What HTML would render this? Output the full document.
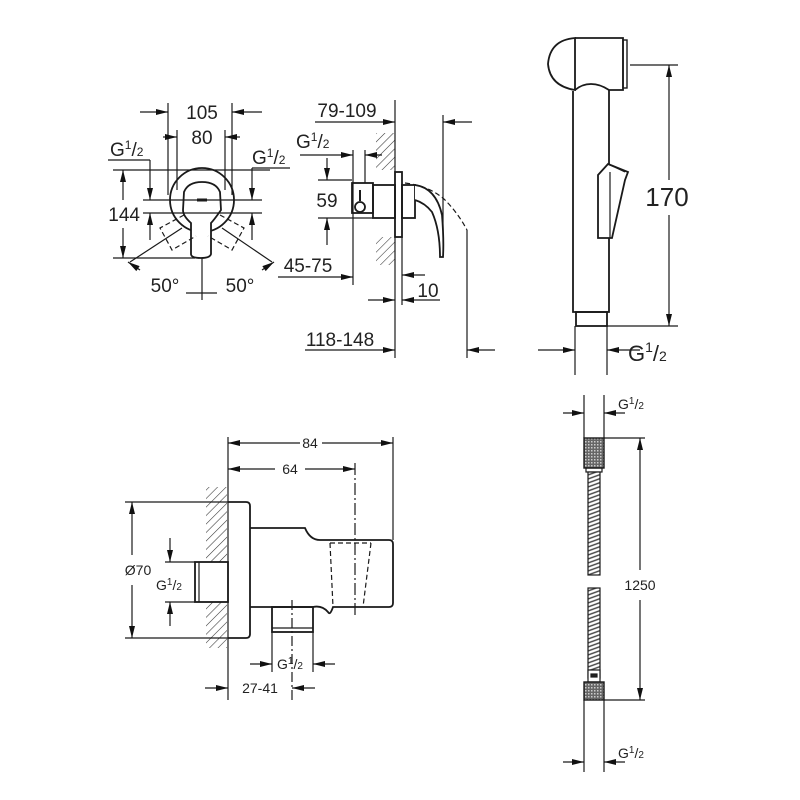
<!DOCTYPE html>
<html><head><meta charset="utf-8"><style>
html,body{margin:0;padding:0;background:#fff;}
svg{display:block;}
text{font-family:"Liberation Sans",sans-serif;fill:#222;}
</style></head><body>
<svg width="800" height="800" viewBox="0 0 800 800" xmlns="http://www.w3.org/2000/svg">
<defs>
<marker id="a" markerWidth="12" markerHeight="8" refX="12" refY="4" orient="auto" markerUnits="userSpaceOnUse"><path d="M0,1 L12,4 L0,7 Z" fill="#111"/></marker>
<pattern id="h" width="6" height="6" patternUnits="userSpaceOnUse" patternTransform="rotate(45)"><line x1="0" y1="0" x2="0" y2="6" stroke="#333" stroke-width="1.1"/></pattern>
<pattern id="k" width="3" height="3" patternUnits="userSpaceOnUse"><rect width="3" height="3" fill="#666"/><rect width="1.5" height="1.5" fill="#ccc"/></pattern>
<pattern id="s" width="12" height="4" patternUnits="userSpaceOnUse" patternTransform="skewY(-20)"><rect width="12" height="4" fill="#fff"/><line x1="0" y1="1" x2="12" y2="1" stroke="#444" stroke-width="1.5"/></pattern>
</defs>
<g stroke="#1a1a1a" stroke-width="1.2" fill="none">
<!-- ===== front view mixer ===== -->
<circle cx="202" cy="200" r="32" stroke-width="1.8"/>
<path d="M184,192 Q188,182 202,182 Q216,182 220,192 L221,210 Q214,220 211,223 L211,254 Q210,258 201,258 Q191,258 191,254 L191,223 Q183,216 183,210 Z" stroke-width="1.8" fill="#fff"/>
<path d="M197,200 L207,200" stroke-width="3"/>
<path d="M184,215 L160,228 L172,250 L196,236" stroke-dasharray="5,3"/>
<path d="M220,215 L244,228 L232,250 L208,236" stroke-dasharray="5,3"/>
<line x1="168" y1="103" x2="168" y2="195"/><line x1="232" y1="103" x2="232" y2="195"/>
<line x1="140" y1="112" x2="168" y2="112" marker-end="url(#a)"/><line x1="262" y1="112" x2="232" y2="112" marker-end="url(#a)"/>
<line x1="177" y1="130" x2="177" y2="190"/><line x1="225" y1="130" x2="225" y2="190"/>
<line x1="163" y1="137" x2="177" y2="137" marker-end="url(#a)"/><line x1="240" y1="137" x2="225" y2="137" marker-end="url(#a)"/>
<line x1="108" y1="160" x2="150" y2="160"/><line x1="150" y1="160" x2="150" y2="200" marker-end="url(#a)"/>
<line x1="150" y1="240" x2="150" y2="213" marker-end="url(#a)"/>
<line x1="143" y1="200" x2="262" y2="200"/><line x1="143" y1="213" x2="262" y2="213"/>
<line x1="252" y1="168" x2="290" y2="168"/><line x1="252" y1="168" x2="252" y2="200" marker-end="url(#a)"/>
<line x1="252" y1="240" x2="252" y2="213" marker-end="url(#a)"/>
<line x1="113" y1="170" x2="270" y2="170"/><line x1="113" y1="258" x2="195" y2="258"/>
<line x1="123" y1="200" x2="123" y2="170" marker-end="url(#a)"/><line x1="123" y1="228" x2="123" y2="258" marker-end="url(#a)"/>
<line x1="182" y1="228" x2="130" y2="262"/><line x1="222" y1="228" x2="272" y2="262"/>
<line x1="140" y1="270" x2="128" y2="262" marker-end="url(#a)"/><line x1="262" y1="270" x2="274" y2="262" marker-end="url(#a)"/>
<line x1="202" y1="258" x2="202" y2="300"/>
<line x1="186" y1="293" x2="217" y2="293"/>
<!-- ===== side view mixer ===== -->
<rect x="376" y="133" width="19" height="37" fill="url(#h)" stroke="none"/>
<rect x="376" y="237" width="19" height="28" fill="url(#h)" stroke="none"/>
<line x1="395" y1="100" x2="395" y2="358"/>
<rect x="395" y="172" width="7" height="65" stroke-width="1.8" fill="#fff"/>
<rect x="373" y="185" width="22" height="33" stroke-width="1.8"/>
<rect x="352" y="183" width="21" height="30" stroke-width="1.8"/>
<circle cx="360" cy="207" r="5" stroke-width="1.8"/><line x1="360" y1="190" x2="360" y2="201" stroke-width="2"/>
<rect x="402" y="185" width="13" height="33" stroke-width="1.8"/>
<path d="M415,185 Q436,188 442,215 Q444,240 443,257 L440,257 Q440,230 432,212 Q425,203 415,200" stroke-width="1.8" fill="#fff"/>
<path d="M405,183 Q430,186 445,200 Q458,213 467,230" stroke-dasharray="5,3"/>
<line x1="315" y1="122" x2="395" y2="122" marker-end="url(#a)"/>
<line x1="472" y1="122" x2="443" y2="122" marker-end="url(#a)"/>
<line x1="443" y1="115" x2="443" y2="230"/>
<line x1="300" y1="155" x2="353" y2="155" marker-end="url(#a)"/>
<line x1="353" y1="150" x2="353" y2="285"/>
<line x1="365" y1="150" x2="365" y2="183"/>
<line x1="382" y1="155" x2="365" y2="155" marker-end="url(#a)"/>
<line x1="318" y1="180" x2="352" y2="180"/><line x1="318" y1="218" x2="373" y2="218"/>
<line x1="327" y1="158" x2="327" y2="180" marker-end="url(#a)"/><line x1="327" y1="245" x2="327" y2="218" marker-end="url(#a)"/>
<line x1="278" y1="277" x2="353" y2="277" marker-end="url(#a)"/>
<line x1="402" y1="237" x2="402" y2="305"/>
<line x1="425" y1="275" x2="402" y2="275" marker-end="url(#a)"/>
<line x1="368" y1="300" x2="395" y2="300" marker-end="url(#a)"/>
<line x1="440" y1="300" x2="402" y2="300" marker-end="url(#a)"/>
<line x1="305" y1="350" x2="395" y2="350" marker-end="url(#a)"/>
<line x1="467" y1="230" x2="467" y2="358"/>
<line x1="495" y1="350" x2="467" y2="350" marker-end="url(#a)"/>
<!-- ===== handheld shower ===== -->
<path d="M575,38 L575,90 Q550,86 548,64 Q550,40 575,38 Z" stroke-width="1.8"/>
<path d="M575,38 L623,38 L623,90 L609,90 Q600,84 591,84 Q582,84 575,90" stroke-width="1.8"/>
<rect x="623" y="40" width="4" height="48" stroke-width="1.4"/>
<path d="M573,91 L573,312 L609,312 L609,90" stroke-width="1.8"/>
<rect x="576" y="312" width="31" height="14" stroke-width="1.8"/>
<path d="M608,164 L598,175 L598,238 L612,238 L625,180 L628,172 Z" stroke-width="1.8" fill="#fff"/>
<path d="M610,172 L610,238 M608,164 L625,172" stroke-width="1.2"/>
<line x1="630" y1="65" x2="678" y2="65"/><line x1="607" y1="326" x2="678" y2="326"/>
<line x1="669" y1="180" x2="669" y2="65" marker-end="url(#a)"/><line x1="669" y1="215" x2="669" y2="326" marker-end="url(#a)"/>
<line x1="575" y1="326" x2="575" y2="375"/><line x1="607" y1="326" x2="607" y2="375"/>
<line x1="538" y1="350" x2="575" y2="350" marker-end="url(#a)"/>
<line x1="640" y1="350" x2="607" y2="350" marker-end="url(#a)"/>
<!-- ===== hose ===== -->
<rect x="584" y="438" width="20" height="30" fill="url(#k)" stroke-width="1.4"/>
<rect x="586" y="468" width="16" height="4" stroke-width="1.2"/>
<rect x="588" y="472" width="12" height="103" fill="url(#s)" stroke-width="1.2"/>
<rect x="588" y="588" width="12" height="90" fill="url(#s)" stroke-width="1.2"/>
<rect x="588" y="670" width="12" height="12" fill="#fff" stroke-width="1.2"/>
<rect x="591" y="674" width="6" height="3" fill="#222"/>
<rect x="584" y="682" width="20" height="18" fill="url(#k)" stroke-width="1.4"/>
<line x1="584" y1="395" x2="584" y2="438"/><line x1="604" y1="395" x2="604" y2="438"/>
<line x1="563" y1="413" x2="584" y2="413" marker-end="url(#a)"/><line x1="625" y1="413" x2="604" y2="413" marker-end="url(#a)"/>
<line x1="604" y1="438" x2="645" y2="438"/><line x1="604" y1="700" x2="645" y2="700"/>
<line x1="640" y1="570" x2="640" y2="438" marker-end="url(#a)"/><line x1="640" y1="600" x2="640" y2="700" marker-end="url(#a)"/>
<line x1="584" y1="700" x2="584" y2="772"/><line x1="604" y1="700" x2="604" y2="772"/>
<line x1="563" y1="762" x2="584" y2="762" marker-end="url(#a)"/><line x1="625" y1="762" x2="604" y2="762" marker-end="url(#a)"/>
<!-- ===== wall outlet ===== -->
<rect x="206" y="487" width="21" height="75" fill="url(#h)" stroke="none"/>
<rect x="206" y="602" width="21" height="46" fill="url(#h)" stroke="none"/>
<line x1="228" y1="437" x2="228" y2="700"/>
<path d="M228,502 L246,502 Q250,502 250,506 L250,634 Q250,638 246,638 L228,638" stroke-width="1.8"/>
<path d="M250,528 L305,528 Q310,540 320,540 L389,540 Q393,540 393,544 L393,603 Q393,607 389,607 L333,607 Q330,616 328,612 Q322,605 313,607 L250,607" stroke-width="1.8"/>
<rect x="195" y="562" width="33" height="40" stroke-width="1.8"/>
<line x1="199" y1="562" x2="199" y2="602" stroke-width="1.2"/>
<rect x="272" y="607" width="41" height="25" stroke-width="1.8"/>
<line x1="272" y1="628" x2="313" y2="628" stroke-width="1.2"/>
<path d="M330,543 L371,543 M330,543 L333,607 M371,543 L363,607" stroke-dasharray="5,3"/>
<line x1="355" y1="463" x2="355" y2="615" stroke-dasharray="12,3,2,3"/>
<line x1="292" y1="600" x2="292" y2="700" stroke-dasharray="10,3,2,3"/>
<line x1="393" y1="437" x2="393" y2="540"/>
<line x1="300" y1="443" x2="228" y2="443" marker-end="url(#a)"/><line x1="322" y1="443" x2="393" y2="443" marker-end="url(#a)"/>
<line x1="275" y1="469" x2="228" y2="469" marker-end="url(#a)"/><line x1="305" y1="469" x2="355" y2="469" marker-end="url(#a)"/>
<line x1="125" y1="502" x2="228" y2="502"/><line x1="125" y1="638" x2="228" y2="638"/>
<line x1="132" y1="555" x2="132" y2="502" marker-end="url(#a)"/><line x1="132" y1="585" x2="132" y2="638" marker-end="url(#a)"/>
<line x1="165" y1="562" x2="195" y2="562"/><line x1="165" y1="602" x2="195" y2="602"/>
<line x1="170" y1="538" x2="170" y2="562" marker-end="url(#a)"/><line x1="170" y1="626" x2="170" y2="602" marker-end="url(#a)"/>
<line x1="272" y1="632" x2="272" y2="672"/><line x1="313" y1="632" x2="313" y2="672"/>
<line x1="250" y1="664" x2="272" y2="664" marker-end="url(#a)"/><line x1="335" y1="664" x2="313" y2="664" marker-end="url(#a)"/>
<line x1="205" y1="688" x2="228" y2="688" marker-end="url(#a)"/><line x1="315" y1="688" x2="292" y2="688" marker-end="url(#a)"/>
</g>
<g font-size="19">
<text x="202" y="119" text-anchor="middle">105</text>
<text x="202" y="144" text-anchor="middle">80</text>
<text x="110" y="156">G<tspan font-size="12" dy="-7">1</tspan><tspan dy="7">/</tspan><tspan font-size="12">2</tspan></text>
<text x="252" y="164">G<tspan font-size="12" dy="-7">1</tspan><tspan dy="7">/</tspan><tspan font-size="12">2</tspan></text>
<text x="140" y="221" text-anchor="end">144</text>
<text x="165" y="292" text-anchor="middle">50°</text>
<text x="240" y="292" text-anchor="middle">50°</text>
<text x="347" y="117" text-anchor="middle">79-109</text>
<text x="296" y="148">G<tspan font-size="12" dy="-7">1</tspan><tspan dy="7">/</tspan><tspan font-size="12">2</tspan></text>
<text x="327" y="207" text-anchor="middle">59</text>
<text x="308" y="272" text-anchor="middle">45-75</text>
<text x="428" y="297" text-anchor="middle">10</text>
<text x="340" y="346" text-anchor="middle">118-148</text>
</g>
<text x="667" y="206" font-size="26" text-anchor="middle">170</text>
<text x="628" y="361" font-size="22">G<tspan font-size="14" dy="-9">1</tspan><tspan dy="9">/</tspan><tspan font-size="14">2</tspan></text>
<g font-size="14">
<text x="618" y="409">G<tspan font-size="10" dy="-5">1</tspan><tspan dy="5">/</tspan><tspan font-size="10">2</tspan></text>
<text x="640" y="590" text-anchor="middle">1250</text>
<text x="618" y="758">G<tspan font-size="10" dy="-5">1</tspan><tspan dy="5">/</tspan><tspan font-size="10">2</tspan></text>
<text x="310" y="448" text-anchor="middle">84</text>
<text x="290" y="474" text-anchor="middle">64</text>
<text x="138" y="575" text-anchor="middle">Ø70</text>
<text x="156" y="590">G<tspan font-size="10" dy="-5">1</tspan><tspan dy="5">/</tspan><tspan font-size="10">2</tspan></text>
<text x="277" y="669">G<tspan font-size="10" dy="-5">1</tspan><tspan dy="5">/</tspan><tspan font-size="10">2</tspan></text>
<text x="260" y="693" text-anchor="middle">27-41</text>
</g>
</svg>
</body></html>
